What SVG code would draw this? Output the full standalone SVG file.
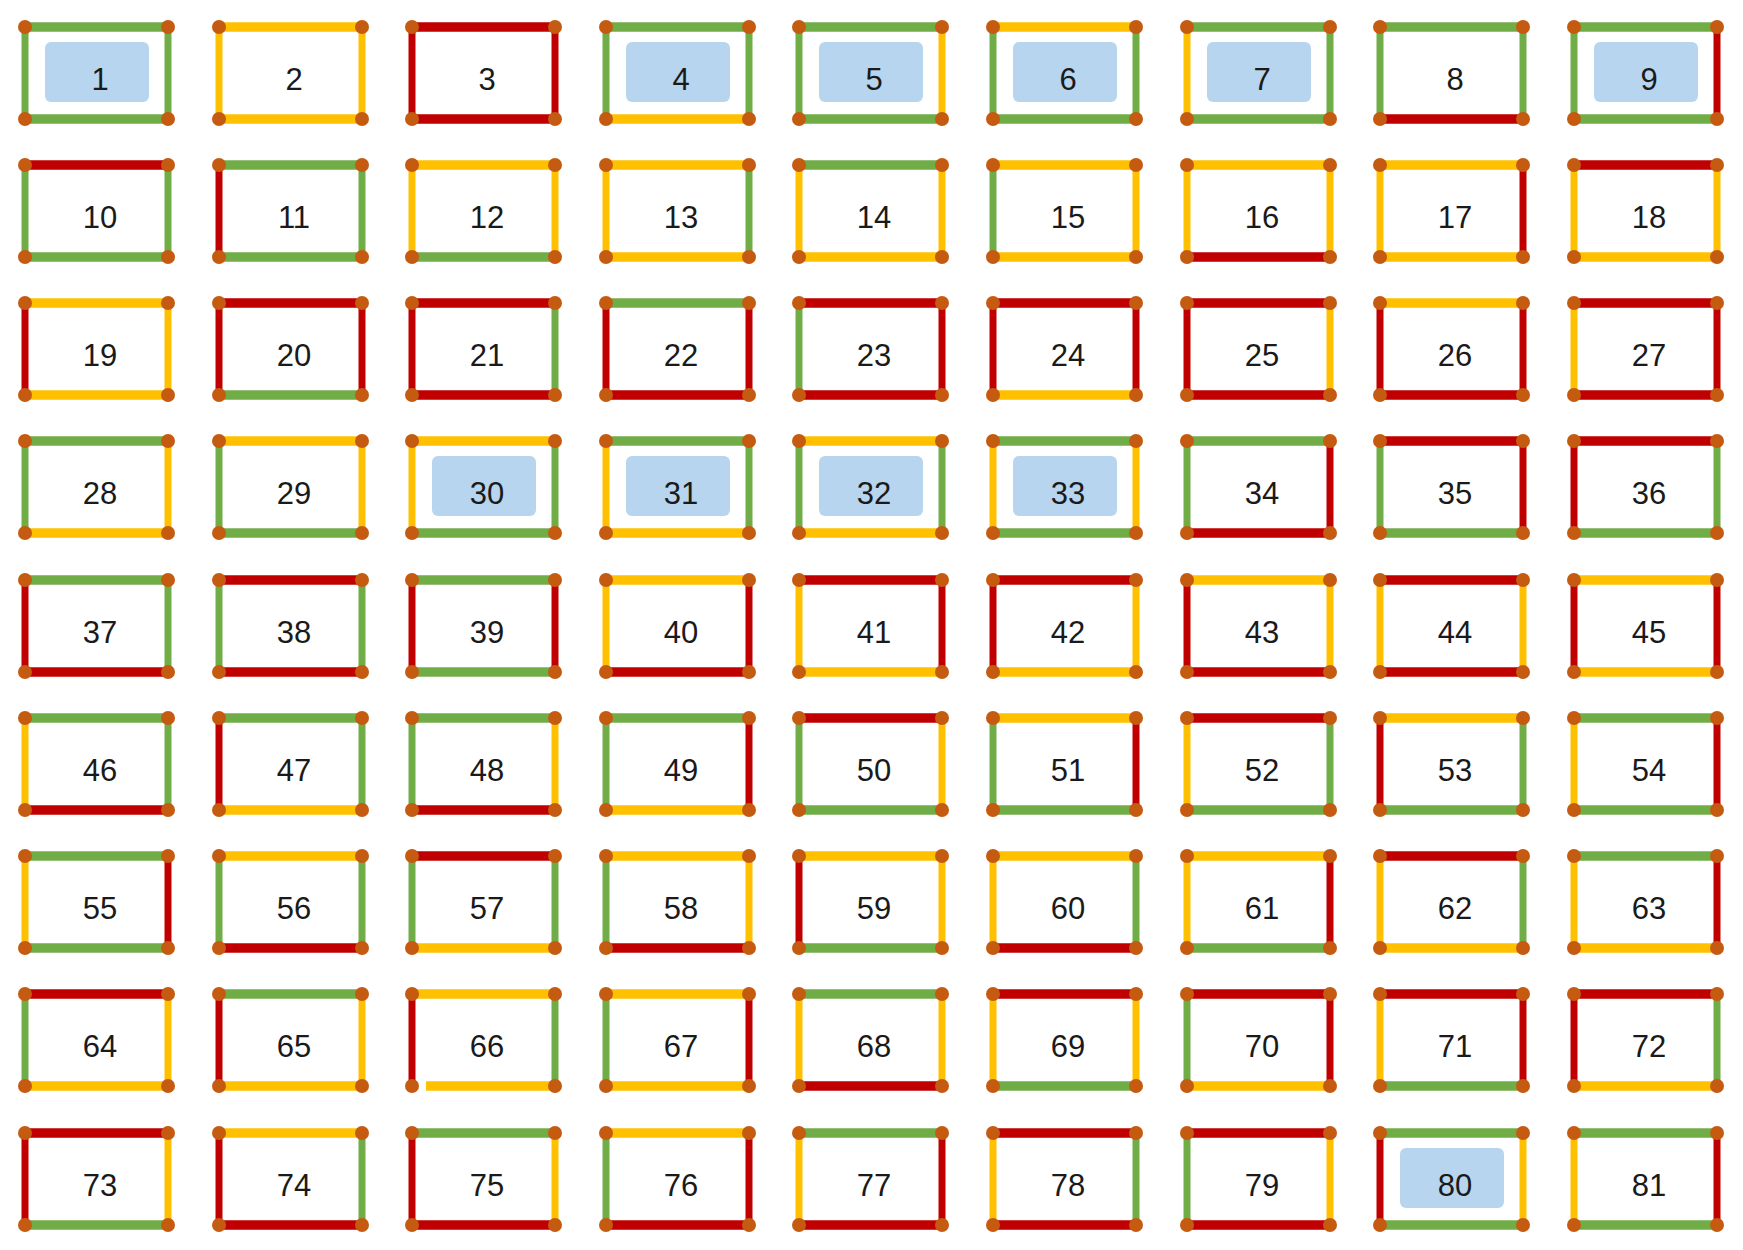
<svg xmlns="http://www.w3.org/2000/svg" width="1743" height="1250" viewBox="0 0 1743 1250">
<style>
.g{stroke:#70AD47}.y{stroke:#FFC000}.r{stroke:#C00000}
.hl{fill:#B7D5EE}
.dot{fill:#C55A11}
text{font-family:"Liberation Sans",Arial,sans-serif;font-size:31px;fill:#1a1a1a;text-anchor:middle}
</style>
<defs>
<line id="T" x1="0" y1="0" x2="143" y2="0" stroke-width="9.5"/>
<line id="B" x1="0" y1="92" x2="143" y2="92" stroke-width="9.5"/>
<line id="L" x1="0" y1="0" x2="0" y2="92" stroke-width="7"/>
<line id="R" x1="143" y1="0" x2="143" y2="92" stroke-width="7"/>
<g id="D" class="dot"><circle cx="0" cy="0" r="7"/><circle cx="143" cy="0" r="7"/><circle cx="0" cy="92" r="7"/><circle cx="143" cy="92" r="7"/></g>
<rect id="H" class="hl" x="20" y="15" width="104" height="60" rx="6"/>
</defs>
<rect width="1743" height="1250" fill="#fff"/>
<g id="nodes">
<g id="n1" transform="translate(25,27)"><use href="#H"/><use href="#T" class="g"/><use href="#R" class="g"/><use href="#B" class="g"/><use href="#L" class="g"/><use href="#D"/><text x="75" y="63">1</text></g>
<g id="n2" transform="translate(219,27)"><use href="#T" class="y"/><use href="#R" class="y"/><use href="#B" class="y"/><use href="#L" class="y"/><use href="#D"/><text x="75" y="63">2</text></g>
<g id="n3" transform="translate(412,27)"><use href="#T" class="r"/><use href="#R" class="r"/><use href="#B" class="r"/><use href="#L" class="r"/><use href="#D"/><text x="75" y="63">3</text></g>
<g id="n4" transform="translate(606,27)"><use href="#H"/><use href="#T" class="g"/><use href="#R" class="g"/><use href="#B" class="y"/><use href="#L" class="g"/><use href="#D"/><text x="75" y="63">4</text></g>
<g id="n5" transform="translate(799,27)"><use href="#H"/><use href="#T" class="g"/><use href="#R" class="y"/><use href="#B" class="g"/><use href="#L" class="g"/><use href="#D"/><text x="75" y="63">5</text></g>
<g id="n6" transform="translate(993,27)"><use href="#H"/><use href="#T" class="y"/><use href="#R" class="g"/><use href="#B" class="g"/><use href="#L" class="g"/><use href="#D"/><text x="75" y="63">6</text></g>
<g id="n7" transform="translate(1187,27)"><use href="#H"/><use href="#T" class="g"/><use href="#R" class="g"/><use href="#B" class="g"/><use href="#L" class="y"/><use href="#D"/><text x="75" y="63">7</text></g>
<g id="n8" transform="translate(1380,27)"><use href="#T" class="g"/><use href="#R" class="g"/><use href="#B" class="r"/><use href="#L" class="g"/><use href="#D"/><text x="75" y="63">8</text></g>
<g id="n9" transform="translate(1574,27)"><use href="#H"/><use href="#T" class="g"/><use href="#R" class="r"/><use href="#B" class="g"/><use href="#L" class="g"/><use href="#D"/><text x="75" y="63">9</text></g>

<g id="n10" transform="translate(25,165)"><use href="#T" class="r"/><use href="#R" class="g"/><use href="#B" class="g"/><use href="#L" class="g"/><use href="#D"/><text x="75" y="63">10</text></g>
<g id="n11" transform="translate(219,165)"><use href="#T" class="g"/><use href="#R" class="g"/><use href="#B" class="g"/><use href="#L" class="r"/><use href="#D"/><text x="75" y="63">11</text></g>
<g id="n12" transform="translate(412,165)"><use href="#T" class="y"/><use href="#R" class="y"/><use href="#B" class="g"/><use href="#L" class="y"/><use href="#D"/><text x="75" y="63">12</text></g>
<g id="n13" transform="translate(606,165)"><use href="#T" class="y"/><use href="#R" class="g"/><use href="#B" class="y"/><use href="#L" class="y"/><use href="#D"/><text x="75" y="63">13</text></g>
<g id="n14" transform="translate(799,165)"><use href="#T" class="g"/><use href="#R" class="y"/><use href="#B" class="y"/><use href="#L" class="y"/><use href="#D"/><text x="75" y="63">14</text></g>
<g id="n15" transform="translate(993,165)"><use href="#T" class="y"/><use href="#R" class="y"/><use href="#B" class="y"/><use href="#L" class="g"/><use href="#D"/><text x="75" y="63">15</text></g>
<g id="n16" transform="translate(1187,165)"><use href="#T" class="y"/><use href="#R" class="y"/><use href="#B" class="r"/><use href="#L" class="y"/><use href="#D"/><text x="75" y="63">16</text></g>
<g id="n17" transform="translate(1380,165)"><use href="#T" class="y"/><use href="#R" class="r"/><use href="#B" class="y"/><use href="#L" class="y"/><use href="#D"/><text x="75" y="63">17</text></g>
<g id="n18" transform="translate(1574,165)"><use href="#T" class="r"/><use href="#R" class="y"/><use href="#B" class="y"/><use href="#L" class="y"/><use href="#D"/><text x="75" y="63">18</text></g>

<g id="n19" transform="translate(25,303)"><use href="#T" class="y"/><use href="#R" class="y"/><use href="#B" class="y"/><use href="#L" class="r"/><use href="#D"/><text x="75" y="63">19</text></g>
<g id="n20" transform="translate(219,303)"><use href="#T" class="r"/><use href="#R" class="r"/><use href="#B" class="g"/><use href="#L" class="r"/><use href="#D"/><text x="75" y="63">20</text></g>
<g id="n21" transform="translate(412,303)"><use href="#T" class="r"/><use href="#R" class="g"/><use href="#B" class="r"/><use href="#L" class="r"/><use href="#D"/><text x="75" y="63">21</text></g>
<g id="n22" transform="translate(606,303)"><use href="#T" class="g"/><use href="#R" class="r"/><use href="#B" class="r"/><use href="#L" class="r"/><use href="#D"/><text x="75" y="63">22</text></g>
<g id="n23" transform="translate(799,303)"><use href="#T" class="r"/><use href="#R" class="r"/><use href="#B" class="r"/><use href="#L" class="g"/><use href="#D"/><text x="75" y="63">23</text></g>
<g id="n24" transform="translate(993,303)"><use href="#T" class="r"/><use href="#R" class="r"/><use href="#B" class="y"/><use href="#L" class="r"/><use href="#D"/><text x="75" y="63">24</text></g>
<g id="n25" transform="translate(1187,303)"><use href="#T" class="r"/><use href="#R" class="y"/><use href="#B" class="r"/><use href="#L" class="r"/><use href="#D"/><text x="75" y="63">25</text></g>
<g id="n26" transform="translate(1380,303)"><use href="#T" class="y"/><use href="#R" class="r"/><use href="#B" class="r"/><use href="#L" class="r"/><use href="#D"/><text x="75" y="63">26</text></g>
<g id="n27" transform="translate(1574,303)"><use href="#T" class="r"/><use href="#R" class="r"/><use href="#B" class="r"/><use href="#L" class="y"/><use href="#D"/><text x="75" y="63">27</text></g>

<g id="n28" transform="translate(25,441)"><use href="#T" class="g"/><use href="#R" class="y"/><use href="#B" class="y"/><use href="#L" class="g"/><use href="#D"/><text x="75" y="63">28</text></g>
<g id="n29" transform="translate(219,441)"><use href="#T" class="y"/><use href="#R" class="y"/><use href="#B" class="g"/><use href="#L" class="g"/><use href="#D"/><text x="75" y="63">29</text></g>
<g id="n30" transform="translate(412,441)"><use href="#H"/><use href="#T" class="y"/><use href="#R" class="g"/><use href="#B" class="g"/><use href="#L" class="y"/><use href="#D"/><text x="75" y="63">30</text></g>
<g id="n31" transform="translate(606,441)"><use href="#H"/><use href="#T" class="g"/><use href="#R" class="g"/><use href="#B" class="y"/><use href="#L" class="y"/><use href="#D"/><text x="75" y="63">31</text></g>
<g id="n32" transform="translate(799,441)"><use href="#H"/><use href="#T" class="y"/><use href="#R" class="g"/><use href="#B" class="y"/><use href="#L" class="g"/><use href="#D"/><text x="75" y="63">32</text></g>
<g id="n33" transform="translate(993,441)"><use href="#H"/><use href="#T" class="g"/><use href="#R" class="y"/><use href="#B" class="g"/><use href="#L" class="y"/><use href="#D"/><text x="75" y="63">33</text></g>
<g id="n34" transform="translate(1187,441)"><use href="#T" class="g"/><use href="#R" class="r"/><use href="#B" class="r"/><use href="#L" class="g"/><use href="#D"/><text x="75" y="63">34</text></g>
<g id="n35" transform="translate(1380,441)"><use href="#T" class="r"/><use href="#R" class="r"/><use href="#B" class="g"/><use href="#L" class="g"/><use href="#D"/><text x="75" y="63">35</text></g>
<g id="n36" transform="translate(1574,441)"><use href="#T" class="r"/><use href="#R" class="g"/><use href="#B" class="g"/><use href="#L" class="r"/><use href="#D"/><text x="75" y="63">36</text></g>

<g id="n37" transform="translate(25,580)"><use href="#T" class="g"/><use href="#R" class="g"/><use href="#B" class="r"/><use href="#L" class="r"/><use href="#D"/><text x="75" y="63">37</text></g>
<g id="n38" transform="translate(219,580)"><use href="#T" class="r"/><use href="#R" class="g"/><use href="#B" class="r"/><use href="#L" class="g"/><use href="#D"/><text x="75" y="63">38</text></g>
<g id="n39" transform="translate(412,580)"><use href="#T" class="g"/><use href="#R" class="r"/><use href="#B" class="g"/><use href="#L" class="r"/><use href="#D"/><text x="75" y="63">39</text></g>
<g id="n40" transform="translate(606,580)"><use href="#T" class="y"/><use href="#R" class="r"/><use href="#B" class="r"/><use href="#L" class="y"/><use href="#D"/><text x="75" y="63">40</text></g>
<g id="n41" transform="translate(799,580)"><use href="#T" class="r"/><use href="#R" class="r"/><use href="#B" class="y"/><use href="#L" class="y"/><use href="#D"/><text x="75" y="63">41</text></g>
<g id="n42" transform="translate(993,580)"><use href="#T" class="r"/><use href="#R" class="y"/><use href="#B" class="y"/><use href="#L" class="r"/><use href="#D"/><text x="75" y="63">42</text></g>
<g id="n43" transform="translate(1187,580)"><use href="#T" class="y"/><use href="#R" class="y"/><use href="#B" class="r"/><use href="#L" class="r"/><use href="#D"/><text x="75" y="63">43</text></g>
<g id="n44" transform="translate(1380,580)"><use href="#T" class="r"/><use href="#R" class="y"/><use href="#B" class="r"/><use href="#L" class="y"/><use href="#D"/><text x="75" y="63">44</text></g>
<g id="n45" transform="translate(1574,580)"><use href="#T" class="y"/><use href="#R" class="r"/><use href="#B" class="y"/><use href="#L" class="r"/><use href="#D"/><text x="75" y="63">45</text></g>

<g id="n46" transform="translate(25,718)"><use href="#T" class="g"/><use href="#R" class="g"/><use href="#B" class="r"/><use href="#L" class="y"/><use href="#D"/><text x="75" y="63">46</text></g>
<g id="n47" transform="translate(219,718)"><use href="#T" class="g"/><use href="#R" class="g"/><use href="#B" class="y"/><use href="#L" class="r"/><use href="#D"/><text x="75" y="63">47</text></g>
<g id="n48" transform="translate(412,718)"><use href="#T" class="g"/><use href="#R" class="y"/><use href="#B" class="r"/><use href="#L" class="g"/><use href="#D"/><text x="75" y="63">48</text></g>
<g id="n49" transform="translate(606,718)"><use href="#T" class="g"/><use href="#R" class="r"/><use href="#B" class="y"/><use href="#L" class="g"/><use href="#D"/><text x="75" y="63">49</text></g>
<g id="n50" transform="translate(799,718)"><use href="#T" class="r"/><use href="#R" class="y"/><use href="#B" class="g"/><use href="#L" class="g"/><use href="#D"/><text x="75" y="63">50</text></g>
<g id="n51" transform="translate(993,718)"><use href="#T" class="y"/><use href="#R" class="r"/><use href="#B" class="g"/><use href="#L" class="g"/><use href="#D"/><text x="75" y="63">51</text></g>
<g id="n52" transform="translate(1187,718)"><use href="#T" class="r"/><use href="#R" class="g"/><use href="#B" class="g"/><use href="#L" class="y"/><use href="#D"/><text x="75" y="63">52</text></g>
<g id="n53" transform="translate(1380,718)"><use href="#T" class="y"/><use href="#R" class="g"/><use href="#B" class="g"/><use href="#L" class="r"/><use href="#D"/><text x="75" y="63">53</text></g>
<g id="n54" transform="translate(1574,718)"><use href="#T" class="g"/><use href="#R" class="r"/><use href="#B" class="g"/><use href="#L" class="y"/><use href="#D"/><text x="75" y="63">54</text></g>

<g id="n55" transform="translate(25,856)"><use href="#T" class="g"/><use href="#R" class="r"/><use href="#B" class="g"/><use href="#L" class="y"/><use href="#D"/><text x="75" y="63">55</text></g>
<g id="n56" transform="translate(219,856)"><use href="#T" class="y"/><use href="#R" class="g"/><use href="#B" class="r"/><use href="#L" class="g"/><use href="#D"/><text x="75" y="63">56</text></g>
<g id="n57" transform="translate(412,856)"><use href="#T" class="r"/><use href="#R" class="g"/><use href="#B" class="y"/><use href="#L" class="g"/><use href="#D"/><text x="75" y="63">57</text></g>
<g id="n58" transform="translate(606,856)"><use href="#T" class="y"/><use href="#R" class="y"/><use href="#B" class="r"/><use href="#L" class="g"/><use href="#D"/><text x="75" y="63">58</text></g>
<g id="n59" transform="translate(799,856)"><use href="#T" class="y"/><use href="#R" class="y"/><use href="#B" class="g"/><use href="#L" class="r"/><use href="#D"/><text x="75" y="63">59</text></g>
<g id="n60" transform="translate(993,856)"><use href="#T" class="y"/><use href="#R" class="g"/><use href="#B" class="r"/><use href="#L" class="y"/><use href="#D"/><text x="75" y="63">60</text></g>
<g id="n61" transform="translate(1187,856)"><use href="#T" class="y"/><use href="#R" class="r"/><use href="#B" class="g"/><use href="#L" class="y"/><use href="#D"/><text x="75" y="63">61</text></g>
<g id="n62" transform="translate(1380,856)"><use href="#T" class="r"/><use href="#R" class="g"/><use href="#B" class="y"/><use href="#L" class="y"/><use href="#D"/><text x="75" y="63">62</text></g>
<g id="n63" transform="translate(1574,856)"><use href="#T" class="g"/><use href="#R" class="r"/><use href="#B" class="y"/><use href="#L" class="y"/><use href="#D"/><text x="75" y="63">63</text></g>

<g id="n64" transform="translate(25,994)"><use href="#T" class="r"/><use href="#R" class="y"/><use href="#B" class="y"/><use href="#L" class="g"/><use href="#D"/><text x="75" y="63">64</text></g>
<g id="n65" transform="translate(219,994)"><use href="#T" class="g"/><use href="#R" class="y"/><use href="#B" class="y"/><use href="#L" class="r"/><use href="#D"/><text x="75" y="63">65</text></g>
<g id="n66" transform="translate(412,994)"><use href="#T" class="y"/><use href="#R" class="g"/><line class="y" x1="14" y1="92" x2="143" y2="92" stroke-width="9.5"/><use href="#L" class="r"/><use href="#D"/><text x="75" y="63">66</text></g>
<g id="n67" transform="translate(606,994)"><use href="#T" class="y"/><use href="#R" class="r"/><use href="#B" class="y"/><use href="#L" class="g"/><use href="#D"/><text x="75" y="63">67</text></g>
<g id="n68" transform="translate(799,994)"><use href="#T" class="g"/><use href="#R" class="y"/><use href="#B" class="r"/><use href="#L" class="y"/><use href="#D"/><text x="75" y="63">68</text></g>
<g id="n69" transform="translate(993,994)"><use href="#T" class="r"/><use href="#R" class="y"/><use href="#B" class="g"/><use href="#L" class="y"/><use href="#D"/><text x="75" y="63">69</text></g>
<g id="n70" transform="translate(1187,994)"><use href="#T" class="r"/><use href="#R" class="r"/><use href="#B" class="y"/><use href="#L" class="g"/><use href="#D"/><text x="75" y="63">70</text></g>
<g id="n71" transform="translate(1380,994)"><use href="#T" class="r"/><use href="#R" class="r"/><use href="#B" class="g"/><use href="#L" class="y"/><use href="#D"/><text x="75" y="63">71</text></g>
<g id="n72" transform="translate(1574,994)"><use href="#T" class="r"/><use href="#R" class="g"/><use href="#B" class="y"/><use href="#L" class="r"/><use href="#D"/><text x="75" y="63">72</text></g>

<g id="n73" transform="translate(25,1133)"><use href="#T" class="r"/><use href="#R" class="y"/><use href="#B" class="g"/><use href="#L" class="r"/><use href="#D"/><text x="75" y="63">73</text></g>
<g id="n74" transform="translate(219,1133)"><use href="#T" class="y"/><use href="#R" class="g"/><use href="#B" class="r"/><use href="#L" class="r"/><use href="#D"/><text x="75" y="63">74</text></g>
<g id="n75" transform="translate(412,1133)"><use href="#T" class="g"/><use href="#R" class="y"/><use href="#B" class="r"/><use href="#L" class="r"/><use href="#D"/><text x="75" y="63">75</text></g>
<g id="n76" transform="translate(606,1133)"><use href="#T" class="y"/><use href="#R" class="r"/><use href="#B" class="r"/><use href="#L" class="g"/><use href="#D"/><text x="75" y="63">76</text></g>
<g id="n77" transform="translate(799,1133)"><use href="#T" class="g"/><use href="#R" class="r"/><use href="#B" class="r"/><use href="#L" class="y"/><use href="#D"/><text x="75" y="63">77</text></g>
<g id="n78" transform="translate(993,1133)"><use href="#T" class="r"/><use href="#R" class="g"/><use href="#B" class="r"/><use href="#L" class="y"/><use href="#D"/><text x="75" y="63">78</text></g>
<g id="n79" transform="translate(1187,1133)"><use href="#T" class="r"/><use href="#R" class="y"/><use href="#B" class="r"/><use href="#L" class="g"/><use href="#D"/><text x="75" y="63">79</text></g>
<g id="n80" transform="translate(1380,1133)"><use href="#H"/><use href="#T" class="g"/><use href="#R" class="y"/><use href="#B" class="g"/><use href="#L" class="r"/><use href="#D"/><text x="75" y="63">80</text></g>
<g id="n81" transform="translate(1574,1133)"><use href="#T" class="g"/><use href="#R" class="r"/><use href="#B" class="g"/><use href="#L" class="y"/><use href="#D"/><text x="75" y="63">81</text></g>
</g>
</svg>
